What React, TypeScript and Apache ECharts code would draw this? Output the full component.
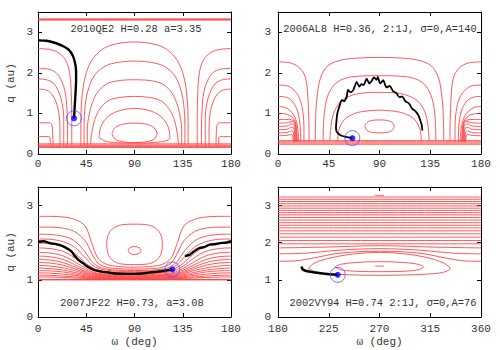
import React, { useEffect, useRef } from "react";
import * as echarts from "echarts";

type Pt = [number, number];

// ---------- Panel 1: 2010QE2 ----------
const p1Label = "2010QE2 H=0.28 a=3.35";
const p1Bands: number[] = [3.3, 3.315, 3.33, 0.16, 0.18, 0.2, 0.22, 0.25];
const p1Arches: Pt[][] = [
  [[40, 0.22], [40, 0.8], [41, 1.4], [44, 1.9], [50, 2.3], [60, 2.58], [72, 2.71], [90, 2.76], [108, 2.71], [120, 2.58], [130, 2.3], [136, 1.9], [139, 1.4], [140, 0.8], [140, 0.22]],
  [[43, 0.22], [43, 0.7], [44, 1.2], [47, 1.6], [53, 1.95], [63, 2.17], [75, 2.26], [90, 2.29], [105, 2.26], [117, 2.17], [127, 1.95], [133, 1.6], [136, 1.2], [137, 0.7], [137, 0.22]],
  [[46, 0.22], [46, 0.6], [48, 1.0], [52, 1.35], [58, 1.6], [68, 1.77], [90, 1.83], [112, 1.77], [122, 1.6], [128, 1.35], [132, 1.0], [134, 0.6], [134, 0.22]],
  [[49, 0.22], [50, 0.5], [53, 0.85], [58, 1.12], [66, 1.32], [78, 1.4], [90, 1.42], [102, 1.4], [114, 1.32], [122, 1.12], [127, 0.85], [130, 0.5], [131, 0.22]],
];
const p1Loops: Pt[][] = [
  [[57, 0.4], [58, 0.62], [62, 0.83], [69, 0.99], [79, 1.09], [90, 1.12], [101, 1.09], [111, 0.99], [118, 0.83], [122, 0.62], [123, 0.4], [115, 0.3], [90, 0.27], [65, 0.3], [57, 0.4]],
  [[69, 0.5], [72, 0.65], [80, 0.74], [90, 0.76], [100, 0.74], [108, 0.65], [111, 0.5], [108, 0.36], [100, 0.3], [90, 0.28], [80, 0.3], [72, 0.36], [69, 0.5]],
];
const p1SidesLeft: Pt[][] = [
  [[0, 2.6], [12, 2.57], [20, 2.48], [26, 2.3], [29.5, 2.0], [31, 1.5], [31.5, 0.9], [31.5, 0.22]],
  [[0, 2.11], [10, 2.09], [17, 2.0], [22, 1.8], [25.5, 1.5], [27, 1.1], [27.5, 0.6], [27.5, 0.22]],
  [[0, 1.85], [8, 1.83], [14, 1.75], [19, 1.55], [22.5, 1.25], [24, 0.9], [24, 0.22]],
  [[0, 1.6], [7, 1.58], [12, 1.5], [16.5, 1.3], [19.5, 1.0], [20.5, 0.6], [20.5, 0.22]],
  [[0, 0.77], [10, 0.77], [12.5, 0.74], [13.5, 0.6], [14, 0.22]],
  [[0, 0.43], [10, 0.43], [11.2, 0.4], [11.5, 0.3], [11.5, 0.22]],
];
const p1SidesRight: Pt[][] = [
  [[180, 2.6], [168, 2.57], [160, 2.48], [154, 2.3], [150.5, 2.0], [149, 1.5], [148.5, 0.9], [148.5, 0.22]],
  [[180, 2.11], [170, 2.09], [163, 2.0], [158, 1.8], [154.5, 1.5], [153, 1.1], [152.5, 0.6], [152.5, 0.22]],
  [[180, 1.85], [172, 1.83], [166, 1.75], [161, 1.55], [157.5, 1.25], [156, 0.9], [156, 0.22]],
  [[180, 1.6], [173, 1.58], [168, 1.5], [163.5, 1.3], [160.5, 1.0], [159.5, 0.6], [159.5, 0.22]],
  [[180, 0.77], [170, 0.77], [167.5, 0.74], [166.5, 0.6], [166, 0.22]],
  [[180, 0.43], [170, 0.43], [168.8, 0.4], [168.5, 0.3], [168.5, 0.22]],
];
const p1Track: Pt[] = [[0, 2.8], [8, 2.79], [17, 2.73], [24, 2.65], [29, 2.56], [32.5, 2.42], [34.5, 2.25], [35.5, 2.05], [35.5, 1.8], [35, 1.5], [34.3, 1.2], [33.6, 0.88]];
const p1Now: Pt = [33.6, 0.88];

// ---------- Panel 2: 2006AL8 ----------
const p2Label = "2006AL8 H=0.36, 2:1J, σ=0,A=140";
const p2Bands: number[] = [0.24, 0.27, 0.3, 0.33];
const p2Arches: Pt[][] = [
  [[33, 0.32], [33.5, 1.0], [35, 1.5], [38, 1.9], [44, 2.17], [54, 2.3], [68, 2.36], [90, 2.38], [112, 2.36], [126, 2.3], [136, 2.17], [142, 1.9], [145, 1.5], [146.5, 1.0], [147, 0.32]],
  [[40, 0.32], [40.5, 0.8], [42, 1.2], [46, 1.55], [53, 1.78], [65, 1.9], [90, 1.93], [115, 1.9], [127, 1.78], [134, 1.55], [138, 1.2], [139.5, 0.8], [140, 0.32]],
  [[46, 0.32], [47, 0.7], [50, 1.05], [56, 1.3], [66, 1.45], [78, 1.51], [90, 1.52], [102, 1.51], [114, 1.45], [124, 1.3], [130, 1.05], [133, 0.7], [134, 0.32]],
  [[53, 0.33], [54, 0.6], [59, 0.85], [68, 1.0], [79, 1.06], [90, 1.08], [101, 1.06], [112, 1.0], [121, 0.85], [126, 0.6], [127, 0.33]],
  [[77, 0.68], [79, 0.78], [84, 0.83], [90, 0.84], [96, 0.83], [101, 0.78], [103, 0.68], [101, 0.58], [96, 0.53], [90, 0.52], [84, 0.53], [79, 0.58], [77, 0.68]],
];
const p2SidesLeft: Pt[][] = [
  [[0, 2.27], [10, 2.25], [18, 2.15], [23.5, 1.95], [26, 1.6], [27, 1.1], [27.5, 0.6], [27.5, 0.3]],
  [[0, 1.7], [8, 1.68], [14, 1.58], [19, 1.38], [22, 1.05], [23, 0.6], [23, 0.3]],
  [[0, 1.42], [7, 1.4], [12, 1.32], [16.5, 1.12], [19, 0.85], [20, 0.5], [20, 0.3]],
  [[0, 1.17], [6, 1.15], [11, 1.06], [14.5, 0.93], [16.8, 0.75], [18, 0.5], [18.3, 0.3]],
  [[0, 1.0], [6, 0.99], [11, 0.94], [14.5, 0.84], [16.3, 0.66], [17.2, 0.3]],
  [[0, 0.85], [7, 0.85], [12, 0.84], [15, 0.79], [16, 0.62], [16.5, 0.3]],
  [[0, 0.76], [8, 0.77], [12.5, 0.8], [15, 0.76], [15.7, 0.6], [15.9, 0.3]],
  [[0, 0.68], [8, 0.69], [12, 0.74], [14.5, 0.72], [15.2, 0.55], [15.3, 0.3]],
  [[0, 0.6], [8, 0.61], [12, 0.66], [14, 0.64], [14.6, 0.5], [14.7, 0.3]],
  [[0, 0.52], [8, 0.53], [12, 0.57], [13.6, 0.52], [14.1, 0.3]],
  [[0, 0.45], [8, 0.46], [12, 0.48], [13.3, 0.4], [13.5, 0.3]],
];
const p2SidesRight: Pt[][] = [
  [[180, 2.27], [170, 2.25], [162, 2.15], [156.5, 1.95], [154, 1.6], [153, 1.1], [152.5, 0.6], [152.5, 0.3]],
  [[180, 1.7], [172, 1.68], [166, 1.58], [161, 1.38], [158, 1.05], [157, 0.6], [157, 0.3]],
  [[180, 1.42], [173, 1.4], [168, 1.32], [163.5, 1.12], [161, 0.85], [160, 0.5], [160, 0.3]],
  [[180, 1.17], [174, 1.15], [169, 1.06], [165.5, 0.93], [163.2, 0.75], [162, 0.5], [161.7, 0.3]],
  [[180, 1.0], [174, 0.99], [169, 0.94], [165.5, 0.84], [163.7, 0.66], [162.8, 0.3]],
  [[180, 0.85], [173, 0.85], [168, 0.84], [165, 0.79], [164, 0.62], [163.5, 0.3]],
  [[180, 0.76], [172, 0.77], [167.5, 0.8], [165, 0.76], [164.3, 0.6], [164.1, 0.3]],
  [[180, 0.68], [172, 0.69], [168, 0.74], [165.5, 0.72], [164.8, 0.55], [164.7, 0.3]],
  [[180, 0.6], [172, 0.61], [168, 0.66], [166, 0.64], [165.4, 0.5], [165.3, 0.3]],
  [[180, 0.52], [172, 0.53], [168, 0.57], [166.4, 0.52], [165.9, 0.3]],
  [[180, 0.45], [172, 0.46], [168, 0.48], [166.7, 0.4], [166.5, 0.3]],
];
const p2Track: Pt[] = [
  [65.9, 0.39], [60, 0.42], [55, 0.47], [52, 0.55], [51.4, 0.65], [51.8, 0.8], [52.6, 1.0], [54.5, 1.18], [56.5, 1.33], [58.5, 1.3],
  [61, 1.42], [62, 1.58], [64.5, 1.52], [66.8, 1.58], [69.8, 1.78], [72, 1.66], [74, 1.72], [76, 1.7], [78.6, 1.86], [81, 1.74],
  [83, 1.8], [85, 1.89], [87.5, 1.83], [88.5, 1.9], [90.5, 1.74], [93.4, 1.82], [95, 1.7], [96.4, 1.64], [99, 1.68], [102, 1.55],
  [105, 1.5], [107.6, 1.4], [110, 1.42], [113, 1.3], [116, 1.25], [119, 1.12], [122, 1.05], [124.5, 0.95], [126.5, 0.8], [127.5, 0.7], [128, 0.58],
];
const p2Now: Pt = [65.9, 0.39];

// ---------- Panel 3: 2007JF22 ----------
const p3Label = "2007JF22 H=0.73, a=3.08";
const p3Omega: number[] = [0, 12, 24, 34, 44, 50, 56, 64, 75, 90, 105, 116, 124, 130, 136, 146, 156, 168, 180];
const p3U1 = [2.71, 2.71, 2.69, 2.63, 2.45, 2.0, 1.58, 1.42, 1.36, 1.34, 1.36, 1.42, 1.58, 2.0, 2.45, 2.63, 2.69, 2.71, 2.71];
const p3U2 = [2.42, 2.42, 2.39, 2.3, 2.05, 1.72, 1.45, 1.34, 1.3, 1.29, 1.3, 1.34, 1.45, 1.72, 2.05, 2.3, 2.39, 2.42, 2.42];
const p3U3 = [2.23, 2.22, 2.17, 2.05, 1.75, 1.5, 1.36, 1.29, 1.26, 1.25, 1.26, 1.29, 1.36, 1.5, 1.75, 2.05, 2.17, 2.22, 2.23];
const p3U4 = [2.1, 2.09, 2.02, 1.88, 1.6, 1.42, 1.31, 1.26, 1.23, 1.22, 1.23, 1.26, 1.31, 1.42, 1.6, 1.88, 2.02, 2.09, 2.1];
const p3U5 = [1.99, 1.97, 1.89, 1.72, 1.46, 1.34, 1.26, 1.22, 1.2, 1.19, 1.2, 1.22, 1.26, 1.34, 1.46, 1.72, 1.89, 1.97, 1.99];
const p3U6 = [1.86, 1.84, 1.76, 1.6, 1.38, 1.28, 1.22, 1.19, 1.175, 1.17, 1.175, 1.19, 1.22, 1.28, 1.38, 1.6, 1.76, 1.84, 1.86];
const p3U7 = [1.74, 1.72, 1.64, 1.49, 1.32, 1.23, 1.18, 1.16, 1.152, 1.15, 1.152, 1.16, 1.18, 1.23, 1.32, 1.49, 1.64, 1.72, 1.74];
const p3U8 = [1.64, 1.62, 1.54, 1.41, 1.27, 1.2, 1.16, 1.14, 1.132, 1.13, 1.132, 1.14, 1.16, 1.2, 1.27, 1.41, 1.54, 1.62, 1.64];
const p3U9 = [1.55, 1.53, 1.46, 1.35, 1.23, 1.17, 1.14, 1.12, 1.113, 1.11, 1.113, 1.12, 1.14, 1.17, 1.23, 1.35, 1.46, 1.53, 1.55];
const p3U10 = [1.47, 1.45, 1.39, 1.3, 1.2, 1.145, 1.12, 1.105, 1.098, 1.095, 1.098, 1.105, 1.12, 1.145, 1.2, 1.3, 1.39, 1.45, 1.47];
const p3U11 = [1.39, 1.37, 1.32, 1.25, 1.17, 1.125, 1.1, 1.09, 1.083, 1.08, 1.083, 1.09, 1.1, 1.125, 1.17, 1.25, 1.32, 1.37, 1.39];
const p3U12 = [1.32, 1.3, 1.26, 1.2, 1.14, 1.1, 1.085, 1.075, 1.068, 1.065, 1.068, 1.075, 1.085, 1.1, 1.14, 1.2, 1.26, 1.3, 1.32];
const p3U13 = [1.25, 1.24, 1.21, 1.16, 1.11, 1.08, 1.065, 1.057, 1.052, 1.05, 1.052, 1.057, 1.065, 1.08, 1.11, 1.16, 1.21, 1.24, 1.25];
const p3U14 = [1.19, 1.18, 1.15, 1.12, 1.085, 1.06, 1.05, 1.045, 1.042, 1.04, 1.042, 1.045, 1.05, 1.06, 1.085, 1.12, 1.15, 1.18, 1.19];
const p3U15 = [1.13, 1.12, 1.1, 1.08, 1.06, 1.045, 1.036, 1.031, 1.029, 1.028, 1.029, 1.031, 1.036, 1.045, 1.06, 1.08, 1.1, 1.12, 1.13];
const p3U16 = [1.08, 1.075, 1.065, 1.05, 1.04, 1.03, 1.024, 1.02, 1.019, 1.018, 1.019, 1.02, 1.024, 1.03, 1.04, 1.05, 1.065, 1.075, 1.08];
const p3Bands: number[] = [1.0, 1.006, 1.012];
const p3Loops: Pt[][] = [
  [[64, 1.95], [66, 2.25], [72, 2.42], [80, 2.49], [90, 2.5], [100, 2.49], [108, 2.42], [114, 2.25], [116, 1.95], [114, 1.65], [108, 1.48], [100, 1.42], [90, 1.41], [80, 1.42], [72, 1.48], [66, 1.65], [64, 1.95]],
  [[84, 1.79], [85.5, 1.86], [90, 1.9], [94.5, 1.86], [96, 1.79], [94.5, 1.72], [90, 1.68], [85.5, 1.72], [84, 1.79]],
];
const p3TrackA: Pt[] = [
  [0, 2.03], [5, 2.04], [11, 1.99], [17, 1.96], [23.6, 1.9], [28, 1.83], [31, 1.77], [35, 1.62], [37.6, 1.54], [42, 1.45], [45, 1.38],
  [48.5, 1.32], [53, 1.26], [58, 1.23], [65, 1.2], [73, 1.17], [81, 1.16], [89, 1.16], [97, 1.17], [104.5, 1.2], [111, 1.22], [117, 1.24], [121, 1.26], [125.3, 1.28],
];
const p3TrackB: Pt[] = [[137, 1.64], [141.8, 1.68], [146, 1.78], [151, 1.86], [155, 1.88], [160, 1.95], [165, 1.96], [170, 1.99], [175, 2.0], [180, 2.04]];
const p3Now: Pt = [125.3, 1.28];

// ---------- Panel 4: 2002VY94 ----------
const p4Label = "2002VY94 H=0.74 2:1J, σ=0,A=76";
const p4Levels: number[] = [3.23, 3.17, 3.11, 3.05, 2.99, 2.93, 2.87, 2.81, 2.75, 2.68, 2.61, 2.54, 2.47, 2.4, 2.32, 2.24, 2.15, 2.06, 1.97];
const p4Waves: Pt[][] = [
  [[180, 1.86], [220, 1.88], [270, 1.92], [320, 1.88], [360, 1.86]],
  [[180, 1.7], [205, 1.72], [235, 1.8], [270, 1.84], [305, 1.8], [335, 1.72], [360, 1.7]],
  [[180, 1.5], [195, 1.51], [210, 1.58], [235, 1.72], [270, 1.77], [305, 1.72], [330, 1.58], [345, 1.51], [360, 1.5]],
];
const p4Loops: Pt[][] = [
  [[207, 1.3], [212, 1.45], [228, 1.6], [248, 1.7], [270, 1.74], [292, 1.7], [312, 1.6], [327, 1.45], [332.5, 1.3], [326, 1.2], [310, 1.15], [290, 1.13], [270, 1.12], [250, 1.13], [232, 1.15], [215, 1.2], [207, 1.3]],
  [[230.5, 1.35], [236, 1.42], [250, 1.47], [270, 1.49], [290, 1.47], [304, 1.42], [309, 1.35], [304, 1.27], [290, 1.23], [270, 1.22], [250, 1.23], [236, 1.27], [230.5, 1.35]],
  [[266, 1.37], [274, 1.37]],
  [[266, 3.27], [274, 3.27]],
];
const p4Track: Pt[] = [[201, 1.36], [201.5, 1.3], [203, 1.26], [206, 1.23], [210, 1.21], [215, 1.19], [220, 1.17], [226, 1.15], [233, 1.135]];
const p4Now: Pt = [233, 1.135];

const xTicks = { min: [0, 0, 0, 180], max: [180, 180, 180, 360] };

const FONT = "'Liberation Mono', 'DejaVu Sans Mono', monospace";
const RED = "#ff4545";
const TXT = "#333";

export default function App() {
  const ref = useRef<HTMLDivElement>(null);
  useEffect(() => {
    if (!ref.current) return;
    const chart = echarts.init(ref.current, undefined, { renderer: "svg" });
    const grids = [
      { left: 38, top: 12, width: 193, height: 142 },
      { left: 278, top: 12, width: 203, height: 142 },
      { left: 38, top: 187, width: 193, height: 130 },
      { left: 278, top: 187, width: 203, height: 130 },
    ];
    const xAxis: any[] = [];
    const yAxis: any[] = [];
    grids.forEach((_, i) => {
      const common = {
        type: "value",
        gridIndex: i,
        splitLine: { show: false },
        axisLine: { show: true, onZero: false, lineStyle: { color: "#000", width: 1 } },
        axisTick: { show: true, inside: true, length: 4, lineStyle: { color: "#000", width: 1 } },
      };
      const xb = { ...common, min: xTicks.min[i], max: xTicks.max[i], interval: 45 };
      xAxis.push({
        ...xb,
        position: "bottom",
        axisLabel: { color: TXT, fontFamily: FONT, fontSize: 11, margin: i >= 2 ? 6 : 4 },
        name: i >= 2 ? "ω (deg)" : "",
        nameLocation: "middle",
        nameGap: 19,
        nameTextStyle: { color: TXT, fontFamily: FONT, fontSize: 11 },
      });
      xAxis.push({ ...xb, position: "top", axisLabel: { show: false } });
      const yb = { ...common, min: 0, max: 3.5, interval: 1 };
      yAxis.push({
        ...yb,
        position: "left",
        axisLabel: { color: TXT, fontFamily: FONT, fontSize: 11, margin: i % 2 === 1 ? 7 : 5, showMaxLabel: false },
        name: i % 2 === 0 ? "q (au)" : "",
        nameLocation: "middle",
        nameGap: 22,
        nameRotate: 90,
        nameTextStyle: { color: TXT, fontFamily: FONT, fontSize: 11 },
      });
      yAxis.push({ ...yb, position: "right", axisLabel: { show: false } });
    });

    const series: any[] = [];
    const contour = (p: number, data: Pt[]) =>
      series.push({
        type: "line",
        xAxisIndex: 2 * p,
        yAxisIndex: 2 * p,
        data,
        symbol: "none",
        showSymbol: false,
        smooth: 0.35,
        silent: true,
        lineStyle: { color: RED, width: 0.9 },
        z: 2,
      });
    const band = (p: number, q: number) => contour(p, [[xTicks.min[p], q], [xTicks.max[p], q]]);
    const track = (p: number, data: Pt[], w: number) =>
      series.push({
        type: "line",
        xAxisIndex: 2 * p,
        yAxisIndex: 2 * p,
        data,
        symbol: "none",
        smooth: 0.2,
        silent: true,
        lineStyle: { color: "#000", width: w },
        z: 5,
      });
    const now = (p: number, pt: Pt) => {
      series.push({
        type: "scatter",
        xAxisIndex: 2 * p,
        yAxisIndex: 2 * p,
        data: [pt],
        symbol: "circle",
        symbolSize: 15,
        silent: true,
        itemStyle: { color: "rgba(0,0,0,0)", borderColor: "#4d4dff", borderWidth: 1 },
        z: 6,
      });
      series.push({
        type: "scatter",
        xAxisIndex: 2 * p,
        yAxisIndex: 2 * p,
        data: [pt],
        symbol: "circle",
        symbolSize: 6,
        silent: true,
        itemStyle: { color: "#0000ff" },
        z: 7,
      });
    };

    // panel 1
    p1Bands.forEach((q) => band(0, q));
    [...p1Arches, ...p1Loops, ...p1SidesLeft, ...p1SidesRight].forEach((d) => contour(0, d));
    track(0, p1Track, 2.4);
    now(0, p1Now);
    // panel 2
    p2Bands.forEach((q) => band(1, q));
    [...p2Arches, ...p2SidesLeft, ...p2SidesRight].forEach((d) => contour(1, d));
    track(1, p2Track, 1.8);
    now(1, p2Now);
    // panel 3
    p3Bands.forEach((q) => band(2, q));
    [p3U1, p3U2, p3U3, p3U4, p3U5, p3U6, p3U7, p3U8, p3U9, p3U10, p3U11, p3U12, p3U13, p3U14, p3U15, p3U16].forEach((vals) =>
      contour(2, p3Omega.map((w, k) => [w, vals[k]] as Pt))
    );
    p3Loops.forEach((d) => contour(2, d));
    track(2, p3TrackA, 2.4);
    track(2, p3TrackB, 2.4);
    now(2, p3Now);
    // panel 4
    p4Levels.forEach((q) => band(3, q));
    [...p4Waves, ...p4Loops].forEach((d) => contour(3, d));
    track(3, p4Track, 2.6);
    now(3, p4Now);

    const label = (text: string, x: number, y: number) => ({
      type: "text",
      x,
      y,
      z: 100,
      style: { text, fill: TXT, font: `10.4px ${FONT}`, textAlign: "center", textVerticalAlign: "middle" },
    });

    chart.setOption({
      animation: false,
      backgroundColor: "#fff",
      grid: grids,
      xAxis,
      yAxis,
      series,
      graphic: [
        label(p1Label, 136, 29),
        label(p2Label, 380, 29),
        label(p3Label, 132, 303),
        label(p4Label, 383, 303),
      ],
    });
    return () => chart.dispose();
  }, []);
  return <div ref={ref} style={{ width: 500, height: 350, position: "absolute", left: 0, top: 0 }} />;
}
